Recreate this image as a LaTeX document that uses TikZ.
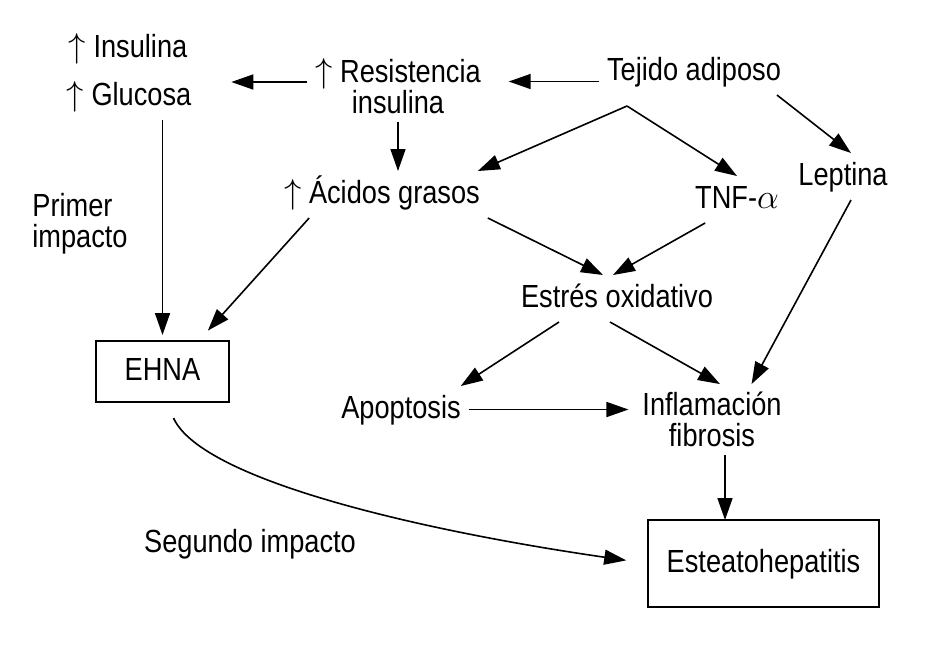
\documentclass[tikz,border=0pt]{standalone}
\usepackage{fontspec}
\setmainfont{Liberation Sans}[FakeStretch=0.85]
\usetikzlibrary{arrows.meta}
\begin{document}
\begin{tikzpicture}[
            x=0.5pt, y=-0.5pt,
            every node/.style={font=\fontsize{16}{15.5}\selectfont, inner sep=4pt, outer sep=0pt},
            txt/.style={text height=12pt, text depth=3.5pt},
            box/.style={draw, line width=0.8pt, text height=12pt, text depth=3.5pt},
            arr/.style={line width=0.8pt, -{Triangle[length=11pt,width=7.5pt]}}
            ]
        \useasboundingbox (0,0) rectangle (925,645);
        % upper row
        \node[txt] (ins) at (128,48.5) {$\uparrow$ Insulina};
        \node[txt] (glu) at (129,96.5) {$\uparrow$ Glucosa};
        \node[align=center] (res) at (398,86) {$\uparrow$ Resistencia\\insulina};
        \node[txt] (tej) at (694,71.5) {Tejido adiposo};
        \coordinate (split) at (627,106);
        % middle
        \node[txt] (aci) at (382,194.5) {$\uparrow$ Ácidos grasos};
        \node[txt] (tnf) at (737,199.5) {TNF-$\alpha$};
        \node[txt] (lep) at (843,176.5) {Leptina};
        \node[align=left] (pri) at (80,223.5) {Primer\\impacto};
        \node[txt] (est) at (617,298.5) {Estrés oxidativo};
        \node[box, minimum width=66.5pt, minimum height=30.5pt] (ehna) at (162.5,371.5) {EHNA};
        \node[txt] (apo) at (401,409.5) {Apoptosis};
        \node[align=center] (inf) at (712,419.5) {Inflamación\\fibrosis};
        % bottom
        \node[txt] (seg) at (250,543.5) {Segundo impacto};
        \node[box, minimum width=115.5pt, minimum height=43.5pt] (esta) at (763.5,563.5) {Esteatohepatitis};
        % arrows
        \draw[arr, shorten >=10pt] ([yshift=-5pt]tej.west) -- ([yshift=-5pt]tej.west -| res.east);
        \draw[arr, shorten >=16pt] ([yshift=2pt]res.west) -- ([yshift=2pt]res.west -| glu.east);
        \draw[arr] (res.south) -- (res.south |- aci.north);
        \draw[arr] (split) -- ([xshift=-5pt]aci.north east);
        \draw[arr] (split) -- (tnf.north);
        \draw[arr] ([xshift=-6pt]tej.south east) -- ([xshift=4pt]lep.north);
        \draw[arr] (aci.south east) -- ([xshift=-7pt]est.north);
        \draw[arr] ([xshift=9pt]tnf.south west) -- ([xshift=-2pt]est.north);
        \draw[arr] ([xshift=4pt]lep.south) -- ([xshift=-19pt]inf.north east);
        \draw[arr] ([xshift=-29pt]est.south) -- ([xshift=-4pt]apo.north east);
        \draw[arr] ([xshift=-3.5pt]est.south) -- ([xshift=4pt]inf.north);
        \draw[arr, shorten >=3pt] (apo.east) -- (apo.east -| inf.west);
        \draw[arr] ([xshift=6.5pt]inf.south) -- ([xshift=6.5pt]inf.south |- esta.north);
        \draw[arr, shorten >=3pt] (glu.south -| ehna.north) -- (ehna.north);
        \draw[arr, shorten >=7pt] ([xshift=16.5pt]aci.south west) -- ([xshift=18pt]ehna.north);
        \draw[arr, shorten >=11pt] ([shift={(5.5pt,-8pt)}]ehna.south)
            .. controls +(28,62) and +(-228,-33) .. (esta.west);
        \end{tikzpicture}
\end{document}
